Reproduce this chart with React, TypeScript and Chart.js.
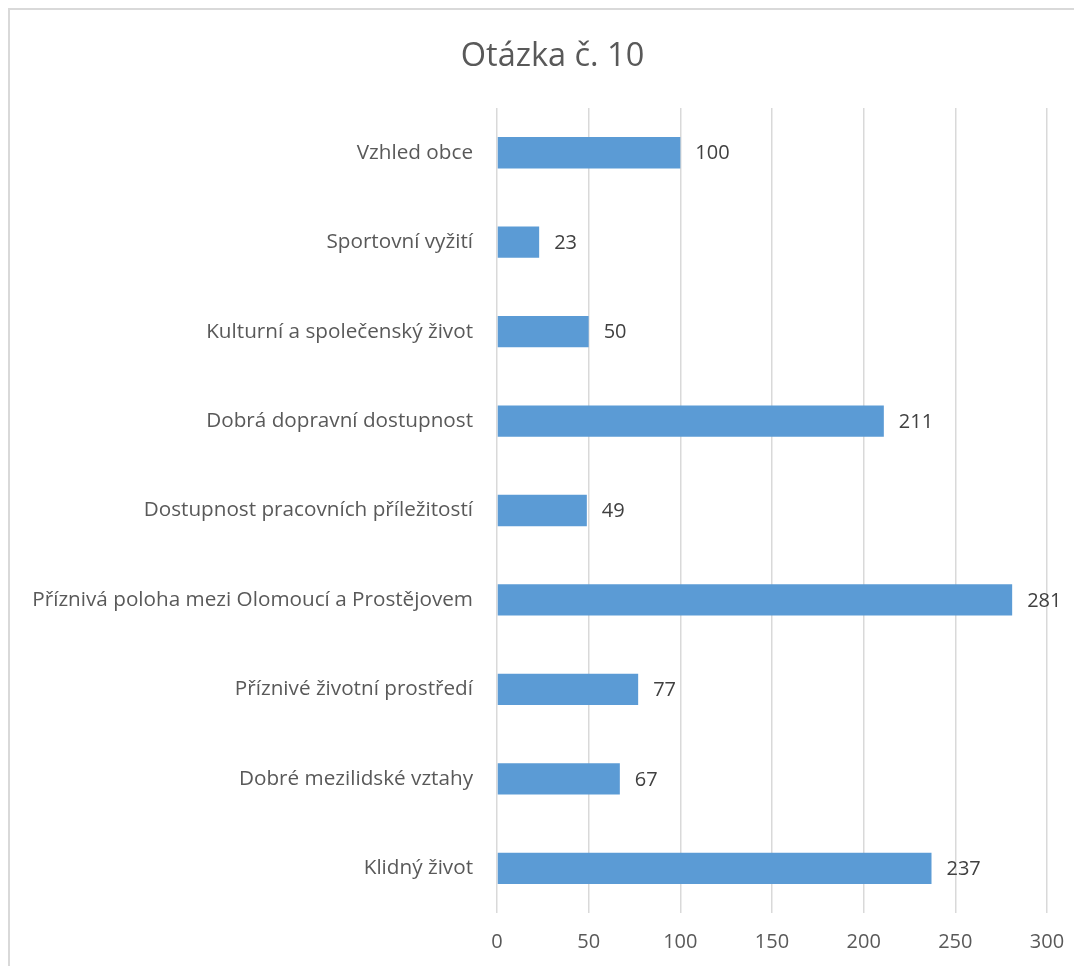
import React, { useEffect, useRef } from "react";
import { Chart, registerables } from "chart.js";

Chart.register(...registerables);

const chartTitle = "Otázka č. 10";
const categories = [
  "Vzhled obce",
  "Sportovní vyžití",
  "Kulturní a společenský život",
  "Dobrá dopravní dostupnost",
  "Dostupnost pracovních příležitostí",
  "Příznivá poloha mezi Olomoucí a Prostějovem",
  "Příznivé životní prostředí",
  "Dobré mezilidské vztahy",
  "Klidný život",
];
const values = [100, 23, 50, 211, 49, 281, 77, 67, 237];
const axisMin = 0;
const axisMax = 300;
const axisStep = 50;

const FONT = "'Open Sans', 'Noto Sans', sans-serif";

const dataLabelPlugin = {
  id: "dataLabels",
  afterDatasetsDraw(chart: any) {
    const ctx = chart.ctx;
    const meta = chart.getDatasetMeta(0);
    ctx.save();
    ctx.font = `20px ${FONT}`;
    ctx.fillStyle = "#404040";
    ctx.textAlign = "left";
    ctx.textBaseline = "middle";
    meta.data.forEach((bar: any, i: number) => {
      ctx.fillText(String(chart.data.datasets[0].data[i]), bar.x + 15, bar.y + 1);
    });
    ctx.restore();
  },
};

const titlePlugin = {
  id: "offsetTitle",
  afterDraw(chart: any) {
    const ctx = chart.ctx;
    ctx.save();
    ctx.font = `32.5px ${FONT}`;
    ctx.fillStyle = "#595959";
    ctx.textAlign = "center";
    ctx.textBaseline = "alphabetic";
    ctx.fillText(chartTitle, 542.5, 55.5);
    ctx.restore();
  },
};

export default function App() {
  const canvasRef = useRef<HTMLCanvasElement | null>(null);

  useEffect(() => {
    if (!canvasRef.current) return;
    const chart = new Chart(canvasRef.current, {
      type: "bar",
      data: {
        labels: categories,
        datasets: [
          {
            data: values,
            backgroundColor: "#5b9bd5",
            borderWidth: 0,
            barPercentage: 0.35,
            categoryPercentage: 1,
          },
        ],
      },
      options: {
        indexAxis: "y",
        responsive: true,
        maintainAspectRatio: false,
        animation: false,
        layout: { padding: { left: 0, right: 35, top: 98, bottom: 0 } },
        plugins: {
          legend: { display: false },
          tooltip: { enabled: false },
          title: { display: false },
        },
        scales: {
          x: {
            min: axisMin,
            max: axisMax,
            ticks: {
              stepSize: axisStep,
              color: "#595959",
              font: { family: FONT, size: 20 },
              padding: 17,
            },
            grid: { color: "#d9d9d9", lineWidth: 1.5, drawTicks: false },
            border: { display: false },
            afterFit: (scale: any) => {
              scale.height = 53;
            },
          },
          y: {
            ticks: {
              color: "#595959",
              font: { family: FONT, size: 20.7 },
              padding: 24,
            },
            grid: { display: false, drawTicks: false },
            border: { display: false },
            afterFit: (scale: any) => {
              scale.width = 487;
            },
          },
        },
      },
      plugins: [dataLabelPlugin, titlePlugin],
    });
    return () => chart.destroy();
  }, []);

  return (
    <>
      <style>{`html,body{overflow:hidden;background:#fff;}`}</style>
      <div
        style={{
          borderTop: "2px solid #d9d9d9",
          borderLeft: "2px solid #d9d9d9",
          width: 1072,
          height: 956,
          boxSizing: "content-box",
        }}
      >
        <div style={{ position: "relative", width: 1072, height: 956 }}>
          <canvas ref={canvasRef} />
        </div>
      </div>
    </>
  );
}
